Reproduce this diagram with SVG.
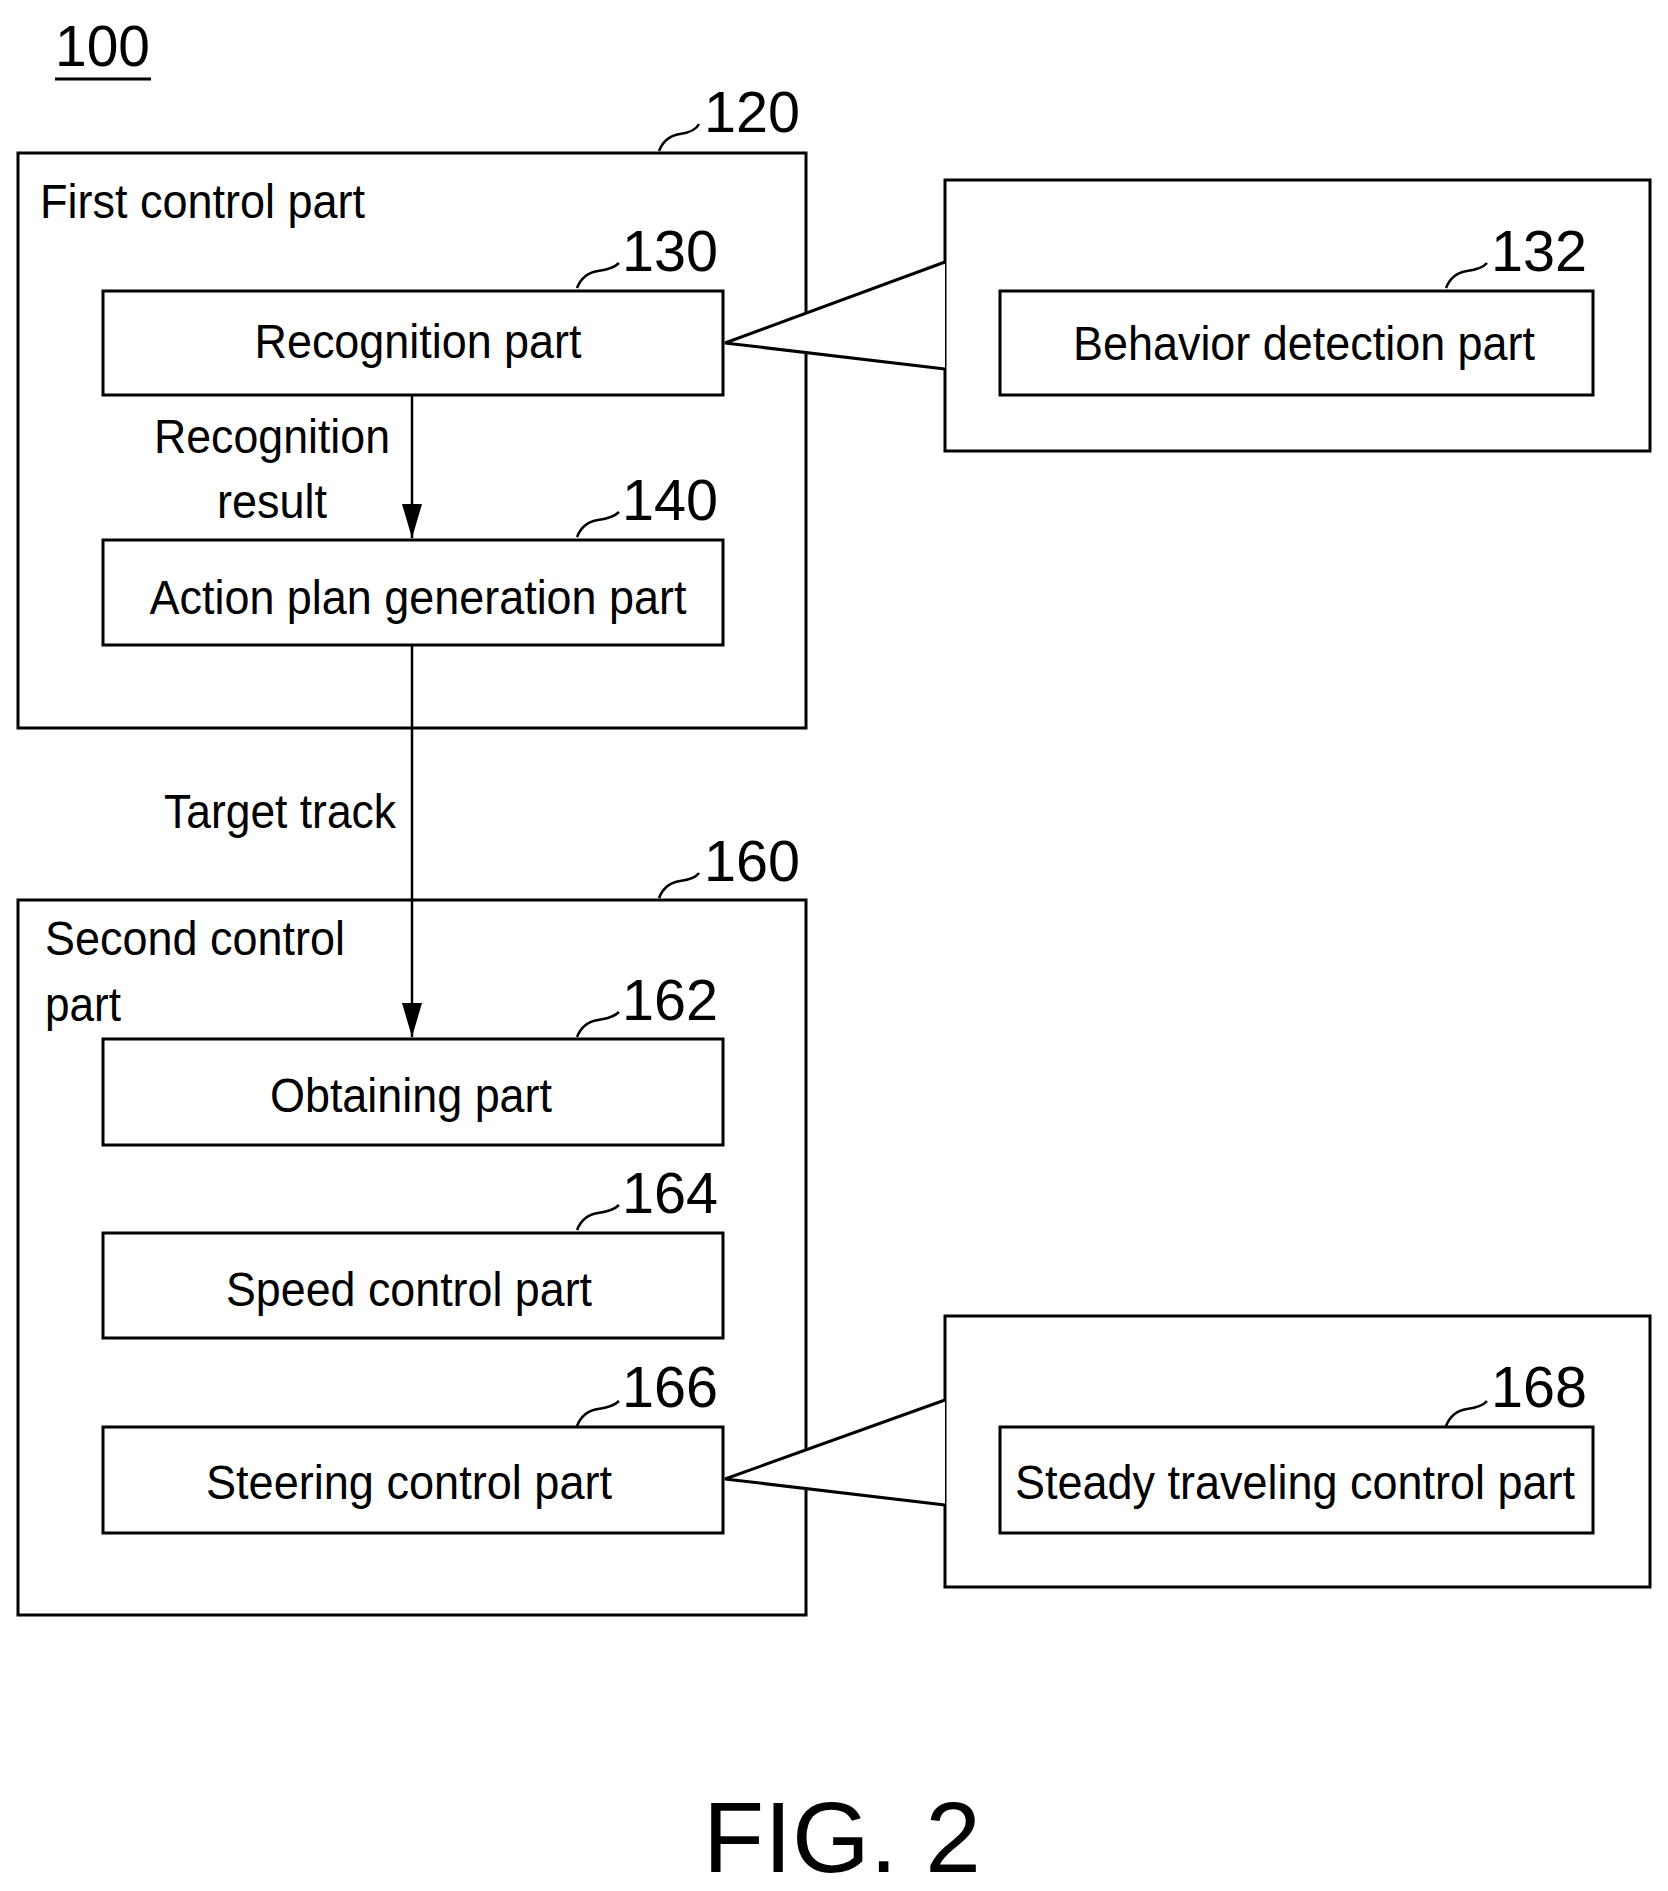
<svg xmlns="http://www.w3.org/2000/svg" width="1668" height="1891" viewBox="0 0 1668 1891">
<defs>
<style>
.b{fill:#fff;stroke:#000;stroke-width:3}
.t{font-family:"Liberation Sans",Arial,sans-serif;font-size:48px;fill:#000}
.n{font-family:"Liberation Sans",Arial,sans-serif;font-size:58px;fill:#000}
.c{text-anchor:middle}
.l{fill:none;stroke:#000;stroke-width:2.5}
</style>
<marker id="a" markerWidth="36" markerHeight="24" refX="34" refY="12" orient="auto" markerUnits="userSpaceOnUse" viewBox="0 0 36 24"><path d="M0,2 L34,12 L0,22 Z" fill="#000"/></marker>
</defs>
<rect width="1668" height="1891" fill="#fff"/>
<g id="label100"><text class="n" x="55" y="66" textLength="95" lengthAdjust="spacingAndGlyphs">100</text><line x1="55" y1="79" x2="151" y2="79" stroke="#000" stroke-width="3"/></g>
<g id="n120"><rect class="b" x="18" y="153" width="788" height="575"/><text class="t" x="40" y="218" textLength="325" lengthAdjust="spacingAndGlyphs">First control part</text><path class="l" d="M659,151 Q665,136 680,134 Q695,132 699,124"/><text class="n" x="704" y="132" textLength="96" lengthAdjust="spacingAndGlyphs">120</text></g>
<g id="n160"><rect class="b" x="18" y="900" width="788" height="715"/><text class="t" x="45" y="955" textLength="300" lengthAdjust="spacingAndGlyphs">Second control</text><text class="t" x="45" y="1021" textLength="76" lengthAdjust="spacingAndGlyphs">part</text><path class="l" d="M659,898 Q665,883 680,881 Q695,879 699,873"/><text class="n" x="704" y="881" textLength="96" lengthAdjust="spacingAndGlyphs">160</text></g>
<g id="n132outer"><rect class="b" x="945" y="180" width="705" height="271"/></g>
<g id="n168outer"><rect class="b" x="945" y="1316" width="705" height="271"/></g>
<g id="connectors">
<line class="l" x1="412" y1="395" x2="412" y2="538" marker-end="url(#a)"/>
<line class="l" x1="412" y1="645" x2="412" y2="1037" marker-end="url(#a)"/>
<polyline fill="#fff" stroke="#000" stroke-width="3" points="945,262 725,343 945,369"/>
<polyline fill="#fff" stroke="#000" stroke-width="3" points="945,1400 725,1479 945,1505"/>
<text class="t c" x="272" y="453" textLength="236" lengthAdjust="spacingAndGlyphs">Recognition</text>
<text class="t c" x="272" y="518" textLength="110" lengthAdjust="spacingAndGlyphs">result</text>
<text class="t" x="396" y="828" text-anchor="end" textLength="232" lengthAdjust="spacingAndGlyphs">Target track</text>
</g>
<g id="n130"><rect class="b" x="103" y="291" width="620" height="104"/><text class="t c" x="418" y="358" textLength="327" lengthAdjust="spacingAndGlyphs">Recognition part</text><path class="l" d="M577,288 Q583,273 598,271 Q613,269 619,263"/><text class="n" x="622" y="271" textLength="96" lengthAdjust="spacingAndGlyphs">130</text></g>
<g id="n140"><rect class="b" x="103" y="540" width="620" height="105"/><text class="t c" x="418" y="614" textLength="537" lengthAdjust="spacingAndGlyphs">Action plan generation part</text><path class="l" d="M577,537 Q583,522 598,520 Q613,518 619,512"/><text class="n" x="622" y="520" textLength="96" lengthAdjust="spacingAndGlyphs">140</text></g>
<g id="n132"><rect class="b" x="1000" y="291" width="593" height="104"/><text class="t c" x="1304" y="360" textLength="462" lengthAdjust="spacingAndGlyphs">Behavior detection part</text><path class="l" d="M1446,288 Q1452,273 1467,271 Q1482,269 1487,263"/><text class="n" x="1491" y="271" textLength="96" lengthAdjust="spacingAndGlyphs">132</text></g>
<g id="n162"><rect class="b" x="103" y="1039" width="620" height="106"/><text class="t c" x="411" y="1112" textLength="282" lengthAdjust="spacingAndGlyphs">Obtaining part</text><path class="l" d="M577,1037 Q583,1022 598,1020 Q613,1018 619,1012"/><text class="n" x="622" y="1020" textLength="96" lengthAdjust="spacingAndGlyphs">162</text></g>
<g id="n164"><rect class="b" x="103" y="1233" width="620" height="105"/><text class="t c" x="409" y="1306" textLength="366" lengthAdjust="spacingAndGlyphs">Speed control part</text><path class="l" d="M577,1230 Q583,1215 598,1213 Q613,1211 619,1205"/><text class="n" x="622" y="1213" textLength="96" lengthAdjust="spacingAndGlyphs">164</text></g>
<g id="n166"><rect class="b" x="103" y="1427" width="620" height="106"/><text class="t c" x="409" y="1499" textLength="406" lengthAdjust="spacingAndGlyphs">Steering control part</text><path class="l" d="M577,1426 Q583,1411 598,1409 Q613,1407 619,1401"/><text class="n" x="622" y="1407" textLength="96" lengthAdjust="spacingAndGlyphs">166</text></g>
<g id="n168"><rect class="b" x="1000" y="1427" width="593" height="106"/><text class="t c" x="1295" y="1499" textLength="560" lengthAdjust="spacingAndGlyphs">Steady traveling control part</text><path class="l" d="M1446,1426 Q1452,1411 1467,1409 Q1482,1407 1487,1401"/><text class="n" x="1491" y="1407" textLength="96" lengthAdjust="spacingAndGlyphs">168</text></g>
<g id="caption"><text x="842" y="1872" text-anchor="middle" font-family="Liberation Sans,Arial,sans-serif" font-size="100" fill="#000">FIG. 2</text></g>
</svg>
